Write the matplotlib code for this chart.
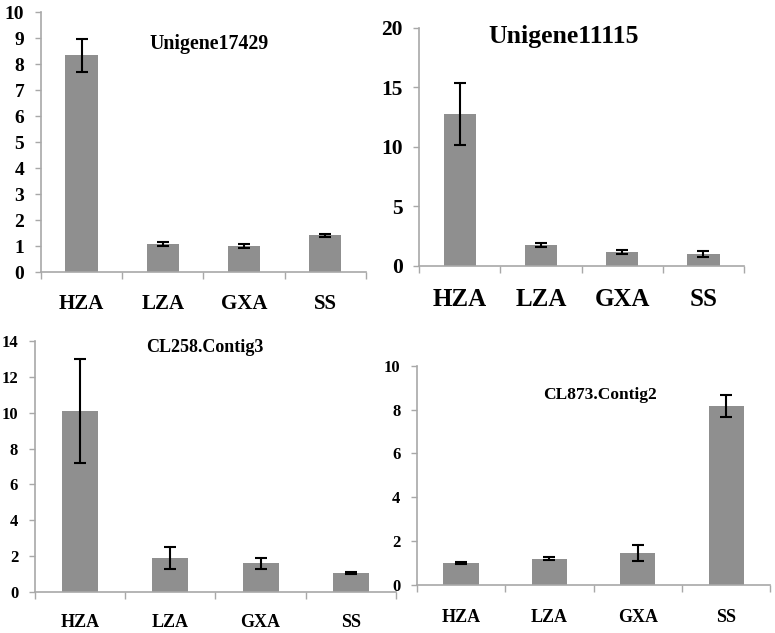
import numpy as np
import matplotlib.pyplot as plt

groups = ['HZA', 'LZA', 'GXA', 'SS']

titles = ['Unigene17429', 'Unigene11115', 'CL258.Contig3', 'CL873.Contig2']

means_17429 = [8.33, 1.07, 1.00, 1.42]
err_17429 = [0.65, 0.08, 0.07, 0.05]

means_11115 = [12.75, 1.75, 1.15, 1.00]
err_11115 = [2.6, 0.15, 0.15, 0.25]

means_cl258 = [10.1, 1.9, 1.6, 1.05]
err_cl258 = [2.9, 0.6, 0.3, 0.07]

means_cl873 = [1.0, 1.2, 1.45, 8.15]
err_cl873 = [0.05, 0.08, 0.35, 0.5]

BAR = '#8f8f8f'
SPINE = '#a8a8a8'

plt.rcParams['font.family'] = ['Liberation Serif', 'DejaVu Serif']
plt.rcParams['font.weight'] = 'bold'

fig = plt.figure(figsize=(7.75, 6.33), dpi=100)

# rect, means, errors, ymax, ystep, ytick size, xlabel size, title size, title pos, xlabel pad
panels = [
	([0.053, 0.570, 0.419, 0.411], means_17429, err_17429, 10, 1, 14, 15, 14.3, (0.517, 0.877), 16),
	([0.541, 0.580, 0.419, 0.376], means_11115, err_11115, 20, 5, 15.5, 18, 18.5, (0.446, 0.962), 16),
	([0.045, 0.065, 0.466, 0.396], means_cl258, err_cl258, 14, 2, 12, 13, 13, (0.471, 0.976), 16),
	([0.538, 0.076, 0.456, 0.346], means_cl873, err_cl873, 10, 2, 12, 13, 12.5, (0.518, 0.865), 17),
]

for i, (rect, m, e, ymax, ystep, fs_y, fs_x, fs_t, tpos, pad) in enumerate(panels):
	ax = fig.add_axes(rect)
	x = np.arange(len(groups))
	ax.bar(x, m, width=0.4, color=BAR, zorder=2)
	ax.errorbar(x, m, yerr=e, fmt='none', ecolor='black', elinewidth=1.5,
		capsize=4.5, capthick=1.5, zorder=3)

	ax.set_xlim(-0.5, len(groups) - 0.5)
	ax.set_ylim(0, ymax)
	ax.set_yticks(np.arange(0, ymax + 0.01, ystep))
	ax.set_xticks(x)
	ax.set_xticklabels(groups, fontsize=fs_x, fontweight='bold')
	ax.set_xticks(np.arange(-0.5, len(groups), 1.0), minor=True)
	ax.tick_params(axis='x', which='major', length=0, pad=pad)
	ax.tick_params(axis='x', which='minor', length=5, color=SPINE, width=1)
	ax.tick_params(axis='y', length=4, color=SPINE, width=1, labelsize=fs_y, pad=8)
	for lab in ax.get_yticklabels():
		lab.set_fontweight('bold')

	for s in ['top', 'right']:
		ax.spines[s].set_visible(False)
	for s in ['left', 'bottom']:
		ax.spines[s].set_color(SPINE)
		ax.spines[s].set_linewidth(1.2)

	ax.text(tpos[0], tpos[1], titles[i], transform=ax.transAxes, ha='center', va='center',
		fontsize=fs_t, fontweight='bold')

fig.savefig('out.png', dpi=100)
